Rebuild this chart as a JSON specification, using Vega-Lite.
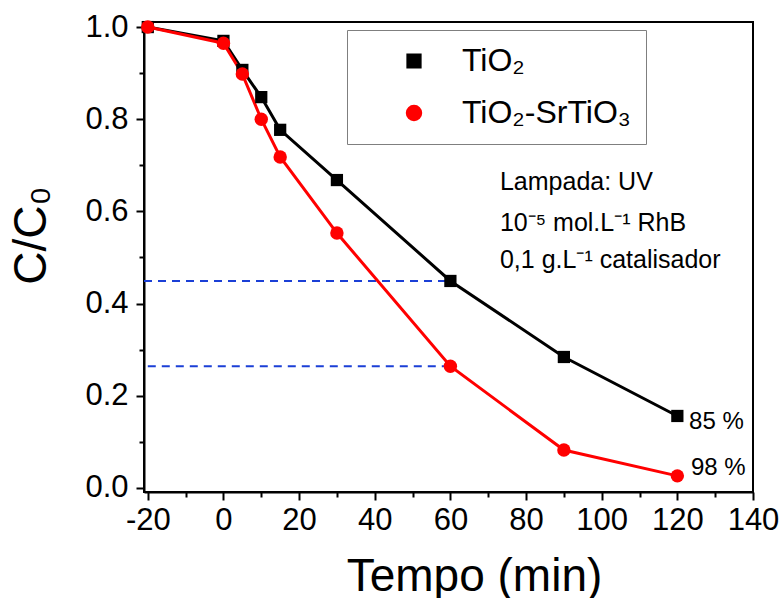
{
  "$schema": "https://vega.github.io/schema/vega-lite/v6.json",
  "width": 609,
  "height": 470,
  "autosize": {"type": "none"},
  "padding": {"left": 144, "top": 22, "right": 28, "bottom": 106},
  "background": "white",
  "config": {
    "font": "Liberation Sans",
    "view": {"stroke": "black", "strokeWidth": 2},
    "axis": {
      "grid": false,
      "domainColor": "black",
      "domainWidth": 2,
      "tickColor": "black",
      "tickWidth": 2,
      "labelColor": "black",
      "titleColor": "black",
      "labelFont": "Liberation Sans",
      "titleFont": "Liberation Sans",
      "titleFontWeight": "normal",
      "labelFlush": false,
      "labelOverlap": false
    }
  },
  "datasets": {
    "curves": [
      {"t": -20, "c": 1.0, "series": "TiO₂"},
      {"t": 0, "c": 0.970, "series": "TiO₂"},
      {"t": 5, "c": 0.907, "series": "TiO₂"},
      {"t": 10, "c": 0.848, "series": "TiO₂"},
      {"t": 15, "c": 0.777, "series": "TiO₂"},
      {"t": 30, "c": 0.668, "series": "TiO₂"},
      {"t": 60, "c": 0.449, "series": "TiO₂"},
      {"t": 90, "c": 0.284, "series": "TiO₂"},
      {"t": 120, "c": 0.156, "series": "TiO₂"},
      {"t": -20, "c": 1.0, "series": "TiO₂-SrTiO₃"},
      {"t": 0, "c": 0.965, "series": "TiO₂-SrTiO₃"},
      {"t": 5, "c": 0.898, "series": "TiO₂-SrTiO₃"},
      {"t": 10, "c": 0.800, "series": "TiO₂-SrTiO₃"},
      {"t": 15, "c": 0.718, "series": "TiO₂-SrTiO₃"},
      {"t": 30, "c": 0.553, "series": "TiO₂-SrTiO₃"},
      {"t": 60, "c": 0.264, "series": "TiO₂-SrTiO₃"},
      {"t": 90, "c": 0.082, "series": "TiO₂-SrTiO₃"},
      {"t": 120, "c": 0.026, "series": "TiO₂-SrTiO₃"}
    ]
  },
  "layer": [
    {
      "data": {"values": [
        {"x0": -21, "x1": 60, "y": 0.449},
        {"x0": -20, "x1": 60, "y": 0.264}
      ]},
      "mark": {"type": "rule", "color": "#1b3fd6", "strokeWidth": 2, "strokeDash": [8, 6]},
      "encoding": {
        "x": {"field": "x0", "type": "quantitative",
          "scale": {"domain": [-21, 140], "nice": false, "zero": false},
          "axis": {"orient": "bottom", "values": [-10, 10, 30, 50, 70, 90, 110, 130], "labels": false, "domain": false, "tickSize": 5, "title": null}},
        "x2": {"field": "x1"},
        "y": {"field": "y", "type": "quantitative",
          "scale": {"domain": [-0.009, 1.011], "nice": false, "zero": false},
          "axis": {"orient": "left", "values": [0.1, 0.3, 0.5, 0.7, 0.9], "labels": false, "domain": false, "tickSize": 5, "title": null}}
      }
    },
    {
      "data": {"name": "curves"},
      "mark": {"type": "line", "strokeWidth": 3},
      "encoding": {
        "x": {"field": "t", "type": "quantitative",
          "scale": {"domain": [-21, 140], "nice": false, "zero": false},
          "axis": {"orient": "bottom", "values": [-20, 0, 20, 40, 60, 80, 100, 120, 140], "labelExpr": "'' + datum.value", "labelFontSize": 31, "tickSize": 8, "labelPadding": 5,
            "title": "Tempo (min)", "titleFontSize": 46, "titleX": 330, "titleY": 62, "titleBaseline": "top", "titleAlign": "center"}},
        "y": {"field": "c", "type": "quantitative",
          "scale": {"domain": [-0.009, 1.011], "nice": false, "zero": false},
          "axis": {"orient": "left", "values": [0, 0.2, 0.4, 0.6, 0.8, 1.0], "format": ".1f", "labelFontSize": 31, "tickSize": 8, "labelPadding": 8,
            "title": "C/C₀", "titleFontSize": 46, "titleX": -113, "titleY": 213, "titleAngle": -90, "titleBaseline": "middle", "titleAlign": "center"}},
        "color": {"field": "series", "type": "nominal",
          "scale": {"domain": ["TiO₂", "TiO₂-SrTiO₃"], "range": ["#000000", "#ff0000"]},
          "legend": {
            "title": null, "orient": "none", "legendX": 203, "legendY": 8, "direction": "vertical",
            "padding": 15, "strokeColor": "#7f7f7f", "fillColor": "white",
            "labelFontSize": 32, "labelFont": "Liberation Sans", "labelColor": "black", "labelOffset": 32, "labelLimit": 400,
            "symbolSize": 784, "symbolOffset": 36, "symbolStrokeWidth": 3, "rowPadding": 20, "symbolOpacity": 1}}
      }
    },
    {
      "data": {"name": "curves"},
      "mark": {"type": "point", "filled": true, "opacity": 1},
      "encoding": {
        "x": {"field": "t", "type": "quantitative", "scale": {"domain": [-21, 140], "nice": false, "zero": false}, "axis": null},
        "y": {"field": "c", "type": "quantitative", "scale": {"domain": [-0.009, 1.011], "nice": false, "zero": false}, "axis": null},
        "color": {"field": "series", "type": "nominal",
          "scale": {"domain": ["TiO₂", "TiO₂-SrTiO₃"], "range": ["#000000", "#ff0000"]},
          "legend": {
            "title": null, "orient": "none", "legendX": 203, "legendY": 8, "direction": "vertical",
            "padding": 15, "strokeColor": "#7f7f7f", "fillColor": "white",
            "labelFontSize": 32, "labelFont": "Liberation Sans", "labelColor": "black", "labelOffset": 32, "labelLimit": 400,
            "symbolSize": 784, "symbolOffset": 36, "symbolStrokeWidth": 3, "rowPadding": 20, "symbolOpacity": 1}},
        "shape": {"field": "series", "type": "nominal",
          "scale": {"domain": ["TiO₂", "TiO₂-SrTiO₃"], "range": ["square", "circle"]}, "legend": null},
        "size": {"field": "series", "type": "nominal",
          "scale": {"domain": ["TiO₂", "TiO₂-SrTiO₃"], "range": [150, 180]}, "legend": null}
      }
    },
    {
      "data": {"values": [
        {"x": 73.1, "y": 0.664, "text": "Lampada: UV"},
        {"x": 73.1, "y": 0.575, "text": "10⁻⁵ mol.L⁻¹ RhB"},
        {"x": 73.1, "y": 0.4945, "text": "0,1 g.L⁻¹ catalisador"}
      ]},
      "mark": {"type": "text", "align": "left", "baseline": "middle", "fontSize": 25, "font": "Liberation Sans", "color": "black"},
      "encoding": {
        "x": {"field": "x", "type": "quantitative", "scale": {"domain": [-21, 140], "nice": false, "zero": false}, "axis": null},
        "y": {"field": "y", "type": "quantitative", "scale": {"domain": [-0.009, 1.011], "nice": false, "zero": false}, "axis": null},
        "text": {"field": "text"}
      }
    },
    {
      "data": {"values": [
        {"x": 123.1, "y": 0.143, "text": "85 %"},
        {"x": 123.6, "y": 0.043, "text": "98 %"}
      ]},
      "mark": {"type": "text", "align": "left", "baseline": "middle", "fontSize": 24, "font": "Liberation Sans", "color": "black"},
      "encoding": {
        "x": {"field": "x", "type": "quantitative", "scale": {"domain": [-21, 140], "nice": false, "zero": false}, "axis": null},
        "y": {"field": "y", "type": "quantitative", "scale": {"domain": [-0.009, 1.011], "nice": false, "zero": false}, "axis": null},
        "text": {"field": "text"}
      }
    }
  ],
  "resolve": {"axis": {"x": "independent", "y": "independent"}}
}
